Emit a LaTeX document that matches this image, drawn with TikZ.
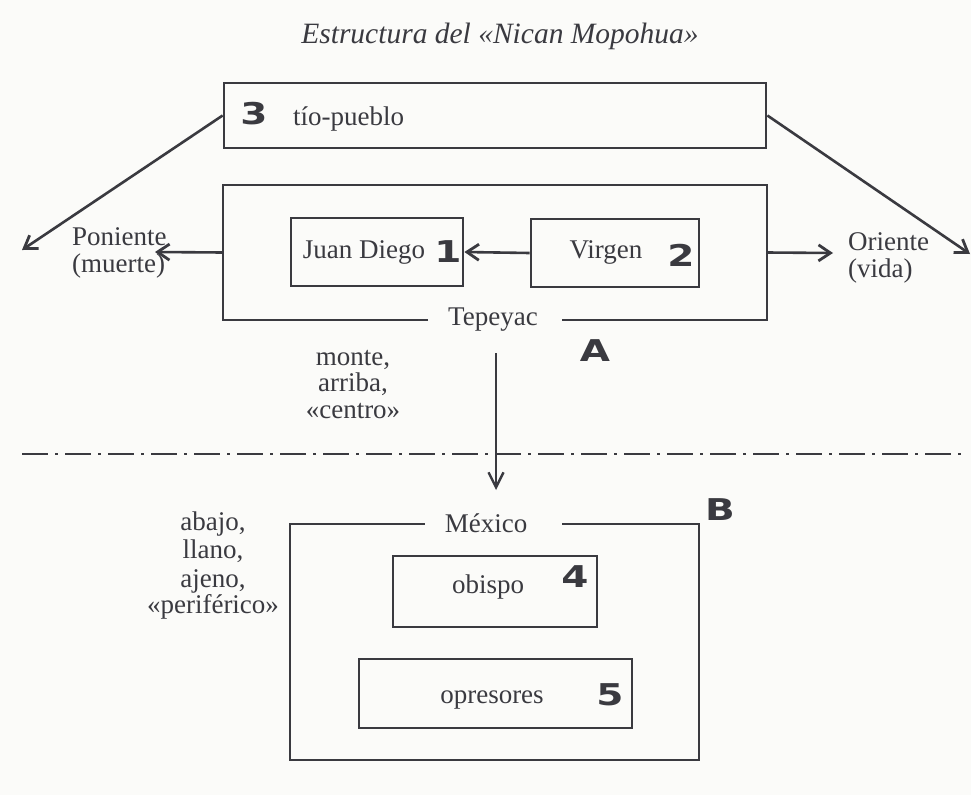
\documentclass[tikz,border=0pt]{standalone}
\usepackage{fontspec}
\usepackage{graphicx}
\setmainfont{Liberation Serif}
\newfontfamily\numfont{DejaVu Sans}
\usetikzlibrary{arrows.meta}
\definecolor{ink}{RGB}{58,58,64}
\definecolor{paper}{RGB}{251,251,249}
\newcommand{\bignum}[1]{\scalebox{1.3}[1]{#1}}
\begin{document}
\begin{tikzpicture}[x=1pt,y=-1pt,
  txt/.style={text=ink, inner sep=0pt, font=\fontsize{27}{27}\selectfont},
  ttl/.style={text=ink, inner sep=0pt, font=\itshape\fontsize{29.5}{32}\selectfont},
  num/.style={text=ink, inner sep=0pt, font=\numfont\bfseries\fontsize{30}{30}\selectfont},
  box/.style={draw=ink, line width=2.8pt, inner sep=0pt},
  frame/.style={inner sep=0pt, outer sep=0pt},
  ln/.style={draw=ink, line width=2.8pt},
  arr/.style={draw=ink, line width=2.6pt, -{Straight Barb[length=12pt,width=16pt,line width=2.8pt]}},
  thinarr/.style={draw=ink, line width=2pt, -{Straight Barb[length=15pt,width=15pt,line width=2.4pt]}},
  dashdot/.style={draw=ink, line width=2.4pt, dash pattern=on 26pt off 7pt on 3pt off 7pt}
]
\path[use as bounding box, fill=paper] (0,0) rectangle (971,795);

% title
\node[ttl, anchor=base] (title) at (500,43) {Estructura del «Nican Mopohua»};

% box 3
\node[box, minimum width=542, minimum height=65] (b3) at (495,115.5) {};
\node[num] (n3) at (254,114) {\bignum{3}};
\node[txt, anchor=base west] (t3) at (293,125) {tío-pueblo};

% outer box A (open at bottom)
\node[frame, minimum width=544, minimum height=135] (A) at (495,252.5) {};
\node[txt, anchor=base] (tep) at (493,325) {Tepeyac};
\draw[ln] ([xshift=-20pt]tep.west |- A.south) -- (A.south west) -- (A.north west)
  -- (A.north east) -- (A.south east) -- ([xshift=24pt]tep.east |- A.south);
\node[num] (lA) at (595,351) {\bignum{A}};

% inner boxes
\node[box, minimum width=172, minimum height=68] (jd) at (377,252) {};
\node[txt, anchor=base] (jdt) at (364,258) {Juan Diego};
\node[num] (n1) at (448,252) {\bignum{1}};
\node[box, minimum width=168, minimum height=68] (vir) at (615,253) {};
\node[txt, anchor=base] (virt) at (606,258) {Virgen};
\node[num] (n2) at (681,255) {\bignum{2}};

% side labels
\node[txt, anchor=base west] (pon1) at (72,245) {Poniente};
\node[txt, anchor=base west] (pon2) at (72,272) {(muerte)};
\node[txt, anchor=base west] (ori1) at (848,250) {Oriente};
\node[txt, anchor=base west] (ori2) at (848,277) {(vida)};
\coordinate (ponTip) at (155,252);
\coordinate (oriTip) at (833,253);
\coordinate (pw) at (22,250);
\coordinate (oe) at (970,254);

% arrows
\draw[arr] (b3.west) -- (pw);
\draw[arr] (b3.east) -- (oe);
\draw[arr] (A.west) -- (ponTip);
\draw[arr] (A.east) -- (oriTip);
\draw[arr] (vir.west) -- (jd.east);

% monte labels
\node[txt, anchor=base] (m1) at (353,365) {monte,};
\node[txt, anchor=base] (m2) at (353,391) {arriba,};
\node[txt, anchor=base] (m3) at (353,418) {«centro»};

% vertical arrow and dash-dot line
\coordinate (vs) at (496,353);
\coordinate (vt) at (496,490);
\coordinate (dl) at (22,454);
\coordinate (dr) at (967,454);
\draw[dashdot] (dl) -- (dr);
\draw[thinarr] (vs) -- (vt);

% box B (open at top)
\node[frame, minimum width=409, minimum height=236] (B) at (494.5,642) {};
\node[txt, anchor=base] (mex) at (486,532) {México};
\draw[ln] ([xshift=-20pt]mex.west |- B.north) -- (B.north west) -- (B.south west)
  -- (B.south east) -- (B.north east) -- ([xshift=35pt]mex.east |- B.north);
\node[num] (lB) at (720,510) {\bignum{B}};

% abajo labels
\node[txt, anchor=base] (a1) at (213,530) {abajo,};
\node[txt, anchor=base] (a2) at (213,558) {llano,};
\node[txt, anchor=base] (a3) at (213,587) {ajeno,};
\node[txt, anchor=base] (a4) at (213,613) {«periférico»};

% boxes 4 and 5
\node[box, minimum width=204, minimum height=71] (obi) at (495,591.5) {};
\node[txt, anchor=base] (obit) at (488,593) {obispo};
\node[num] (n4) at (575,577) {\bignum{4}};
\node[box, minimum width=273, minimum height=69] (opr) at (495.5,693.5) {};
\node[txt, anchor=base] (oprt) at (492,703) {opresores};
\node[num] (n5) at (610,695) {\bignum{5}};
\end{tikzpicture}
\end{document}
